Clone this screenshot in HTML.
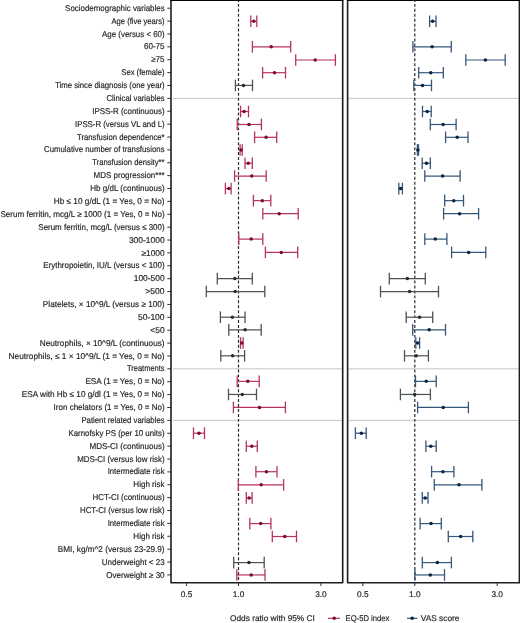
<!DOCTYPE html>
<html><head><meta charset="utf-8"><style>
html,body{margin:0;padding:0;background:#fff;}
body{width:520px;height:623px;overflow:hidden;position:relative;}
svg{position:absolute;left:0;top:0;will-change:transform;}
text{font-family:"Liberation Sans",sans-serif;font-size:8px;fill:#262626;text-rendering:geometricPrecision;stroke:#262626;stroke-width:0.18px;}
.lb{font-size:8.5px;}
.lg,.tk{font-size:8.3px;}
</style></head><body>
<svg width="520" height="623" viewBox="0 0 520 623">

<line x1="173" y1="98.36" x2="342" y2="98.36" stroke="#c4c4c4" stroke-width="1"/>
<line x1="348.5" y1="98.36" x2="518.5" y2="98.36" stroke="#c4c4c4" stroke-width="1"/>
<line x1="173" y1="368.84" x2="342" y2="368.84" stroke="#c4c4c4" stroke-width="1"/>
<line x1="348.5" y1="368.84" x2="518.5" y2="368.84" stroke="#c4c4c4" stroke-width="1"/>
<line x1="173" y1="420.36" x2="342" y2="420.36" stroke="#c4c4c4" stroke-width="1"/>
<line x1="348.5" y1="420.36" x2="518.5" y2="420.36" stroke="#c4c4c4" stroke-width="1"/>
<line x1="238.5" y1="-1.02" x2="238.5" y2="582" stroke="#2a2a2a" stroke-width="1.2" stroke-dasharray="2.95 1.99"/>
<line x1="414.8" y1="-1.02" x2="414.8" y2="582" stroke="#2a2a2a" stroke-width="1.2" stroke-dasharray="2.95 1.99"/>
<text class="lb" x="164.60" y="10.80" text-anchor="end" textLength="99.49" lengthAdjust="spacingAndGlyphs">Sociodemographic variables</text>
<line x1="167.3" y1="8.20" x2="171" y2="8.20" stroke="#333" stroke-width="1"/>
<text class="lb" x="164.60" y="23.68" text-anchor="end" textLength="53.04" lengthAdjust="spacingAndGlyphs">Age (five years)</text>
<line x1="167.3" y1="21.08" x2="171" y2="21.08" stroke="#333" stroke-width="1"/>
<text class="lb" x="164.60" y="36.56" text-anchor="end" textLength="62.53" lengthAdjust="spacingAndGlyphs">Age (versus &lt; 60)</text>
<line x1="167.3" y1="33.96" x2="171" y2="33.96" stroke="#333" stroke-width="1"/>
<text class="lb" x="164.60" y="49.44" text-anchor="end" textLength="20.72" lengthAdjust="spacingAndGlyphs">60-75</text>
<line x1="167.3" y1="46.84" x2="171" y2="46.84" stroke="#333" stroke-width="1"/>
<text class="lb" x="164.60" y="62.32" text-anchor="end" textLength="13.45" lengthAdjust="spacingAndGlyphs">≥75</text>
<line x1="167.3" y1="59.72" x2="171" y2="59.72" stroke="#333" stroke-width="1"/>
<text class="lb" x="164.60" y="75.20" text-anchor="end" textLength="43.25" lengthAdjust="spacingAndGlyphs">Sex (female)</text>
<line x1="167.3" y1="72.60" x2="171" y2="72.60" stroke="#333" stroke-width="1"/>
<text class="lb" x="164.60" y="88.08" text-anchor="end" textLength="109.44" lengthAdjust="spacingAndGlyphs">Time since diagnosis (one year)</text>
<line x1="167.3" y1="85.48" x2="171" y2="85.48" stroke="#333" stroke-width="1"/>
<text class="lb" x="164.60" y="100.96" text-anchor="end" textLength="58.07" lengthAdjust="spacingAndGlyphs">Clinical variables</text>
<line x1="167.3" y1="98.36" x2="171" y2="98.36" stroke="#333" stroke-width="1"/>
<text class="lb" x="164.60" y="113.84" text-anchor="end" textLength="72.36" lengthAdjust="spacingAndGlyphs">IPSS-R (continuous)</text>
<line x1="167.3" y1="111.24" x2="171" y2="111.24" stroke="#333" stroke-width="1"/>
<text class="lb" x="164.60" y="126.72" text-anchor="end" textLength="89.60" lengthAdjust="spacingAndGlyphs">IPSS-R (versus VL and L)</text>
<line x1="167.3" y1="124.12" x2="171" y2="124.12" stroke="#333" stroke-width="1"/>
<text class="lb" x="164.60" y="139.60" text-anchor="end" textLength="87.54" lengthAdjust="spacingAndGlyphs">Transfusion dependence*</text>
<line x1="167.3" y1="137.00" x2="171" y2="137.00" stroke="#333" stroke-width="1"/>
<text class="lb" x="164.60" y="152.48" text-anchor="end" textLength="120.57" lengthAdjust="spacingAndGlyphs">Cumulative number of transfusions</text>
<line x1="167.3" y1="149.88" x2="171" y2="149.88" stroke="#333" stroke-width="1"/>
<text class="lb" x="164.60" y="165.36" text-anchor="end" textLength="72.43" lengthAdjust="spacingAndGlyphs">Transfusion density**</text>
<line x1="167.3" y1="162.76" x2="171" y2="162.76" stroke="#333" stroke-width="1"/>
<text class="lb" x="164.60" y="178.24" text-anchor="end" textLength="70.99" lengthAdjust="spacingAndGlyphs">MDS progression***</text>
<line x1="167.3" y1="175.64" x2="171" y2="175.64" stroke="#333" stroke-width="1"/>
<text class="lb" x="164.60" y="191.12" text-anchor="end" textLength="74.34" lengthAdjust="spacingAndGlyphs">Hb g/dL (continuous)</text>
<line x1="167.3" y1="188.52" x2="171" y2="188.52" stroke="#333" stroke-width="1"/>
<text class="lb" x="164.60" y="204.00" text-anchor="end" textLength="110.84" lengthAdjust="spacingAndGlyphs">Hb ≤ 10 g/dL (1 = Yes, 0 = No)</text>
<line x1="167.3" y1="201.40" x2="171" y2="201.40" stroke="#333" stroke-width="1"/>
<text class="lb" x="164.60" y="216.88" text-anchor="end" textLength="164.20" lengthAdjust="spacingAndGlyphs">Serum ferritin, mcg/L ≥ 1000 (1 = Yes, 0 = No)</text>
<line x1="167.3" y1="214.28" x2="171" y2="214.28" stroke="#333" stroke-width="1"/>
<text class="lb" x="164.60" y="229.76" text-anchor="end" textLength="126.25" lengthAdjust="spacingAndGlyphs">Serum ferritin, mcg/L (versus ≤ 300)</text>
<line x1="167.3" y1="227.16" x2="171" y2="227.16" stroke="#333" stroke-width="1"/>
<text class="lb" x="164.60" y="242.64" text-anchor="end" textLength="35.69" lengthAdjust="spacingAndGlyphs">300-1000</text>
<line x1="167.3" y1="240.04" x2="171" y2="240.04" stroke="#333" stroke-width="1"/>
<text class="lb" x="164.60" y="255.52" text-anchor="end" textLength="23.19" lengthAdjust="spacingAndGlyphs">≥1000</text>
<line x1="167.3" y1="252.92" x2="171" y2="252.92" stroke="#333" stroke-width="1"/>
<text class="lb" x="164.60" y="268.40" text-anchor="end" textLength="121.36" lengthAdjust="spacingAndGlyphs">Erythropoietin, IU/L (versus &lt; 100)</text>
<line x1="167.3" y1="265.80" x2="171" y2="265.80" stroke="#333" stroke-width="1"/>
<text class="lb" x="164.60" y="281.28" text-anchor="end" textLength="30.87" lengthAdjust="spacingAndGlyphs">100-500</text>
<line x1="167.3" y1="278.68" x2="171" y2="278.68" stroke="#333" stroke-width="1"/>
<text class="lb" x="164.60" y="294.16" text-anchor="end" textLength="19.25" lengthAdjust="spacingAndGlyphs">&gt;500</text>
<line x1="167.3" y1="291.56" x2="171" y2="291.56" stroke="#333" stroke-width="1"/>
<text class="lb" x="164.60" y="307.04" text-anchor="end" textLength="121.73" lengthAdjust="spacingAndGlyphs">Platelets, × 10^9/L (versus ≥ 100)</text>
<line x1="167.3" y1="304.44" x2="171" y2="304.44" stroke="#333" stroke-width="1"/>
<text class="lb" x="164.60" y="319.92" text-anchor="end" textLength="26.53" lengthAdjust="spacingAndGlyphs">50-100</text>
<line x1="167.3" y1="317.32" x2="171" y2="317.32" stroke="#333" stroke-width="1"/>
<text class="lb" x="164.60" y="332.80" text-anchor="end" textLength="14.27" lengthAdjust="spacingAndGlyphs">&lt;50</text>
<line x1="167.3" y1="330.20" x2="171" y2="330.20" stroke="#333" stroke-width="1"/>
<text class="lb" x="164.60" y="345.68" text-anchor="end" textLength="124.83" lengthAdjust="spacingAndGlyphs">Neutrophils, × 10^9/L (continuous)</text>
<line x1="167.3" y1="343.08" x2="171" y2="343.08" stroke="#333" stroke-width="1"/>
<text class="lb" x="164.60" y="358.56" text-anchor="end" textLength="156.05" lengthAdjust="spacingAndGlyphs">Neutrophils, ≤ 1 × 10^9/L (1 = Yes, 0 = No)</text>
<line x1="167.3" y1="355.96" x2="171" y2="355.96" stroke="#333" stroke-width="1"/>
<text class="lb" x="164.60" y="371.44" text-anchor="end" textLength="37.65" lengthAdjust="spacingAndGlyphs">Treatments</text>
<line x1="167.3" y1="368.84" x2="171" y2="368.84" stroke="#333" stroke-width="1"/>
<text class="lb" x="164.60" y="384.32" text-anchor="end" textLength="79.18" lengthAdjust="spacingAndGlyphs">ESA (1 = Yes, 0 = No)</text>
<line x1="167.3" y1="381.72" x2="171" y2="381.72" stroke="#333" stroke-width="1"/>
<text class="lb" x="164.60" y="397.20" text-anchor="end" textLength="142.80" lengthAdjust="spacingAndGlyphs">ESA with Hb ≤ 10 g/dl (1 = Yes, 0 = No)</text>
<line x1="167.3" y1="394.60" x2="171" y2="394.60" stroke="#333" stroke-width="1"/>
<text class="lb" x="164.60" y="410.08" text-anchor="end" textLength="111.01" lengthAdjust="spacingAndGlyphs">Iron chelators (1 = Yes, 0 = No)</text>
<line x1="167.3" y1="407.48" x2="171" y2="407.48" stroke="#333" stroke-width="1"/>
<text class="lb" x="164.60" y="422.96" text-anchor="end" textLength="83.14" lengthAdjust="spacingAndGlyphs">Patient related variables</text>
<line x1="167.3" y1="420.36" x2="171" y2="420.36" stroke="#333" stroke-width="1"/>
<text class="lb" x="164.60" y="435.84" text-anchor="end" textLength="96.19" lengthAdjust="spacingAndGlyphs">Karnofsky PS (per 10 units)</text>
<line x1="167.3" y1="433.24" x2="171" y2="433.24" stroke="#333" stroke-width="1"/>
<text class="lb" x="164.60" y="448.72" text-anchor="end" textLength="75.13" lengthAdjust="spacingAndGlyphs">MDS-CI (continuous)</text>
<line x1="167.3" y1="446.12" x2="171" y2="446.12" stroke="#333" stroke-width="1"/>
<text class="lb" x="164.60" y="461.60" text-anchor="end" textLength="87.47" lengthAdjust="spacingAndGlyphs">MDS-CI (versus low risk)</text>
<line x1="167.3" y1="459.00" x2="171" y2="459.00" stroke="#333" stroke-width="1"/>
<text class="lb" x="164.60" y="474.48" text-anchor="end" textLength="56.93" lengthAdjust="spacingAndGlyphs">Intermediate risk</text>
<line x1="167.3" y1="471.88" x2="171" y2="471.88" stroke="#333" stroke-width="1"/>
<text class="lb" x="164.60" y="487.36" text-anchor="end" textLength="31.24" lengthAdjust="spacingAndGlyphs">High risk</text>
<line x1="167.3" y1="484.76" x2="171" y2="484.76" stroke="#333" stroke-width="1"/>
<text class="lb" x="164.60" y="500.24" text-anchor="end" textLength="72.05" lengthAdjust="spacingAndGlyphs">HCT-CI (continuous)</text>
<line x1="167.3" y1="497.64" x2="171" y2="497.64" stroke="#333" stroke-width="1"/>
<text class="lb" x="164.60" y="513.12" text-anchor="end" textLength="84.59" lengthAdjust="spacingAndGlyphs">HCT-CI (versus low risk)</text>
<line x1="167.3" y1="510.52" x2="171" y2="510.52" stroke="#333" stroke-width="1"/>
<text class="lb" x="164.60" y="526.00" text-anchor="end" textLength="56.93" lengthAdjust="spacingAndGlyphs">Intermediate risk</text>
<line x1="167.3" y1="523.40" x2="171" y2="523.40" stroke="#333" stroke-width="1"/>
<text class="lb" x="164.60" y="538.88" text-anchor="end" textLength="31.24" lengthAdjust="spacingAndGlyphs">High risk</text>
<line x1="167.3" y1="536.28" x2="171" y2="536.28" stroke="#333" stroke-width="1"/>
<text class="lb" x="164.60" y="551.76" text-anchor="end" textLength="106.79" lengthAdjust="spacingAndGlyphs">BMI, kg/m^2 (versus 23-29.9)</text>
<line x1="167.3" y1="549.16" x2="171" y2="549.16" stroke="#333" stroke-width="1"/>
<text class="lb" x="164.60" y="564.64" text-anchor="end" textLength="62.82" lengthAdjust="spacingAndGlyphs">Underweight &lt; 23</text>
<line x1="167.3" y1="562.04" x2="171" y2="562.04" stroke="#333" stroke-width="1"/>
<text class="lb" x="164.60" y="577.52" text-anchor="end" textLength="58.31" lengthAdjust="spacingAndGlyphs">Overweight ≥ 30</text>
<line x1="167.3" y1="574.92" x2="171" y2="574.92" stroke="#333" stroke-width="1"/>
<g stroke="#b8335c" stroke-width="1.2"><line x1="250.8" y1="21.30" x2="256.8" y2="21.30"/><line x1="250.8" y1="15.50" x2="250.8" y2="27.10" stroke-width="1.3"/><line x1="256.8" y1="15.50" x2="256.8" y2="27.10" stroke-width="1.3"/></g><circle cx="253.8" cy="21.30" r="1.75" fill="#7c0a2e"/>
<g stroke="#b8335c" stroke-width="1.2"><line x1="252.4" y1="46.80" x2="290.7" y2="46.80"/><line x1="252.4" y1="41.00" x2="252.4" y2="52.60" stroke-width="1.3"/><line x1="290.7" y1="41.00" x2="290.7" y2="52.60" stroke-width="1.3"/></g><circle cx="271.2" cy="46.80" r="1.75" fill="#7c0a2e"/>
<g stroke="#b8335c" stroke-width="1.2"><line x1="295.7" y1="60.00" x2="335.4" y2="60.00"/><line x1="295.7" y1="54.20" x2="295.7" y2="65.80" stroke-width="1.3"/><line x1="335.4" y1="54.20" x2="335.4" y2="65.80" stroke-width="1.3"/></g><circle cx="315.2" cy="60.00" r="1.75" fill="#7c0a2e"/>
<g stroke="#b8335c" stroke-width="1.2"><line x1="262.6" y1="72.70" x2="285.5" y2="72.70"/><line x1="262.6" y1="66.90" x2="262.6" y2="78.50" stroke-width="1.3"/><line x1="285.5" y1="66.90" x2="285.5" y2="78.50" stroke-width="1.3"/></g><circle cx="274.5" cy="72.70" r="1.75" fill="#7c0a2e"/>
<g stroke="#4c5356" stroke-width="1.2"><line x1="235.4" y1="85.40" x2="252.5" y2="85.40"/><line x1="235.4" y1="79.60" x2="235.4" y2="91.20" stroke-width="1.3"/><line x1="252.5" y1="79.60" x2="252.5" y2="91.20" stroke-width="1.3"/></g><circle cx="243.5" cy="85.40" r="1.75" fill="#262c2e"/>
<g stroke="#b8335c" stroke-width="1.2"><line x1="240.6" y1="111.50" x2="248.5" y2="111.50"/><line x1="240.6" y1="105.70" x2="240.6" y2="117.30" stroke-width="1.3"/><line x1="248.5" y1="105.70" x2="248.5" y2="117.30" stroke-width="1.3"/></g><circle cx="244.1" cy="111.50" r="1.75" fill="#7c0a2e"/>
<g stroke="#b8335c" stroke-width="1.2"><line x1="237.2" y1="124.50" x2="261.4" y2="124.50"/><line x1="237.2" y1="118.70" x2="237.2" y2="130.30" stroke-width="1.3"/><line x1="261.4" y1="118.70" x2="261.4" y2="130.30" stroke-width="1.3"/></g><circle cx="249.0" cy="124.50" r="1.75" fill="#7c0a2e"/>
<g stroke="#b8335c" stroke-width="1.2"><line x1="254.6" y1="137.30" x2="276.7" y2="137.30"/><line x1="254.6" y1="131.50" x2="254.6" y2="143.10" stroke-width="1.3"/><line x1="276.7" y1="131.50" x2="276.7" y2="143.10" stroke-width="1.3"/></g><circle cx="266.1" cy="137.30" r="1.75" fill="#7c0a2e"/>
<g stroke="#b8335c" stroke-width="1.2"><line x1="240.1" y1="149.95" x2="242.3" y2="149.95"/><line x1="240.1" y1="144.15" x2="240.1" y2="155.75" stroke-width="1.3"/><line x1="242.3" y1="144.15" x2="242.3" y2="155.75" stroke-width="1.3"/></g><circle cx="241.0" cy="149.95" r="1.75" fill="#7c0a2e"/>
<g stroke="#b8335c" stroke-width="1.2"><line x1="245.0" y1="163.20" x2="252.3" y2="163.20"/><line x1="245.0" y1="157.40" x2="245.0" y2="169.00" stroke-width="1.3"/><line x1="252.3" y1="157.40" x2="252.3" y2="169.00" stroke-width="1.3"/></g><circle cx="248.2" cy="163.20" r="1.75" fill="#7c0a2e"/>
<g stroke="#b8335c" stroke-width="1.2"><line x1="234.6" y1="176.05" x2="266.2" y2="176.05"/><line x1="234.6" y1="170.25" x2="234.6" y2="181.85" stroke-width="1.3"/><line x1="266.2" y1="170.25" x2="266.2" y2="181.85" stroke-width="1.3"/></g><circle cx="251.8" cy="176.05" r="1.75" fill="#7c0a2e"/>
<g stroke="#b8335c" stroke-width="1.2"><line x1="225.4" y1="188.60" x2="231.1" y2="188.60"/><line x1="225.4" y1="182.80" x2="225.4" y2="194.40" stroke-width="1.3"/><line x1="231.1" y1="182.80" x2="231.1" y2="194.40" stroke-width="1.3"/></g><circle cx="228.8" cy="188.60" r="1.75" fill="#7c0a2e"/>
<g stroke="#b8335c" stroke-width="1.2"><line x1="253.4" y1="200.65" x2="270.8" y2="200.65"/><line x1="253.4" y1="194.85" x2="253.4" y2="206.45" stroke-width="1.3"/><line x1="270.8" y1="194.85" x2="270.8" y2="206.45" stroke-width="1.3"/></g><circle cx="262.3" cy="200.65" r="1.75" fill="#7c0a2e"/>
<g stroke="#b8335c" stroke-width="1.2"><line x1="262.8" y1="213.70" x2="298.2" y2="213.70"/><line x1="262.8" y1="207.90" x2="262.8" y2="219.50" stroke-width="1.3"/><line x1="298.2" y1="207.90" x2="298.2" y2="219.50" stroke-width="1.3"/></g><circle cx="279.2" cy="213.70" r="1.75" fill="#7c0a2e"/>
<g stroke="#b8335c" stroke-width="1.2"><line x1="238.8" y1="239.10" x2="262.8" y2="239.10"/><line x1="238.8" y1="233.30" x2="238.8" y2="244.90" stroke-width="1.3"/><line x1="262.8" y1="233.30" x2="262.8" y2="244.90" stroke-width="1.3"/></g><circle cx="251.2" cy="239.10" r="1.75" fill="#7c0a2e"/>
<g stroke="#b8335c" stroke-width="1.2"><line x1="265.4" y1="252.40" x2="297.7" y2="252.40"/><line x1="265.4" y1="246.60" x2="265.4" y2="258.20" stroke-width="1.3"/><line x1="297.7" y1="246.60" x2="297.7" y2="258.20" stroke-width="1.3"/></g><circle cx="281.3" cy="252.40" r="1.75" fill="#7c0a2e"/>
<g stroke="#4c5356" stroke-width="1.2"><line x1="217.3" y1="278.60" x2="252.3" y2="278.60"/><line x1="217.3" y1="272.80" x2="217.3" y2="284.40" stroke-width="1.3"/><line x1="252.3" y1="272.80" x2="252.3" y2="284.40" stroke-width="1.3"/></g><circle cx="234.8" cy="278.60" r="1.75" fill="#262c2e"/>
<g stroke="#4c5356" stroke-width="1.2"><line x1="206.3" y1="291.55" x2="264.8" y2="291.55"/><line x1="206.3" y1="285.75" x2="206.3" y2="297.35" stroke-width="1.3"/><line x1="264.8" y1="285.75" x2="264.8" y2="297.35" stroke-width="1.3"/></g><circle cx="235.2" cy="291.55" r="1.75" fill="#262c2e"/>
<g stroke="#4c5356" stroke-width="1.2"><line x1="220.4" y1="317.20" x2="245.0" y2="317.20"/><line x1="220.4" y1="311.40" x2="220.4" y2="323.00" stroke-width="1.3"/><line x1="245.0" y1="311.40" x2="245.0" y2="323.00" stroke-width="1.3"/></g><circle cx="232.3" cy="317.20" r="1.75" fill="#262c2e"/>
<g stroke="#4c5356" stroke-width="1.2"><line x1="228.8" y1="329.85" x2="261.2" y2="329.85"/><line x1="228.8" y1="324.05" x2="228.8" y2="335.65" stroke-width="1.3"/><line x1="261.2" y1="324.05" x2="261.2" y2="335.65" stroke-width="1.3"/></g><circle cx="245.1" cy="329.85" r="1.75" fill="#262c2e"/>
<g stroke="#b8335c" stroke-width="1.2"><line x1="240.5" y1="343.00" x2="243.1" y2="343.00"/><line x1="240.5" y1="337.20" x2="240.5" y2="348.80" stroke-width="1.3"/><line x1="243.1" y1="337.20" x2="243.1" y2="348.80" stroke-width="1.3"/></g><circle cx="241.8" cy="343.00" r="1.75" fill="#7c0a2e"/>
<g stroke="#4c5356" stroke-width="1.2"><line x1="220.8" y1="355.80" x2="244.6" y2="355.80"/><line x1="220.8" y1="350.00" x2="220.8" y2="361.60" stroke-width="1.3"/><line x1="244.6" y1="350.00" x2="244.6" y2="361.60" stroke-width="1.3"/></g><circle cx="232.6" cy="355.80" r="1.75" fill="#262c2e"/>
<g stroke="#b8335c" stroke-width="1.2"><line x1="237.2" y1="381.35" x2="259.2" y2="381.35"/><line x1="237.2" y1="375.55" x2="237.2" y2="387.15" stroke-width="1.3"/><line x1="259.2" y1="375.55" x2="259.2" y2="387.15" stroke-width="1.3"/></g><circle cx="247.8" cy="381.35" r="1.75" fill="#7c0a2e"/>
<g stroke="#4c5356" stroke-width="1.2"><line x1="228.5" y1="394.45" x2="256.5" y2="394.45"/><line x1="228.5" y1="388.65" x2="228.5" y2="400.25" stroke-width="1.3"/><line x1="256.5" y1="388.65" x2="256.5" y2="400.25" stroke-width="1.3"/></g><circle cx="242.3" cy="394.45" r="1.75" fill="#262c2e"/>
<g stroke="#b8335c" stroke-width="1.2"><line x1="233.4" y1="407.40" x2="285.4" y2="407.40"/><line x1="233.4" y1="401.60" x2="233.4" y2="413.20" stroke-width="1.3"/><line x1="285.4" y1="401.60" x2="285.4" y2="413.20" stroke-width="1.3"/></g><circle cx="259.5" cy="407.40" r="1.75" fill="#7c0a2e"/>
<g stroke="#b8335c" stroke-width="1.2"><line x1="193.5" y1="433.20" x2="204.5" y2="433.20"/><line x1="193.5" y1="427.40" x2="193.5" y2="439.00" stroke-width="1.3"/><line x1="204.5" y1="427.40" x2="204.5" y2="439.00" stroke-width="1.3"/></g><circle cx="199.0" cy="433.20" r="1.75" fill="#7c0a2e"/>
<g stroke="#b8335c" stroke-width="1.2"><line x1="246.3" y1="446.25" x2="257.3" y2="446.25"/><line x1="246.3" y1="440.45" x2="246.3" y2="452.05" stroke-width="1.3"/><line x1="257.3" y1="440.45" x2="257.3" y2="452.05" stroke-width="1.3"/></g><circle cx="251.8" cy="446.25" r="1.75" fill="#7c0a2e"/>
<g stroke="#b8335c" stroke-width="1.2"><line x1="255.9" y1="471.70" x2="277.0" y2="471.70"/><line x1="255.9" y1="465.90" x2="255.9" y2="477.50" stroke-width="1.3"/><line x1="277.0" y1="465.90" x2="277.0" y2="477.50" stroke-width="1.3"/></g><circle cx="266.4" cy="471.70" r="1.75" fill="#7c0a2e"/>
<g stroke="#b8335c" stroke-width="1.2"><line x1="238.3" y1="484.85" x2="283.6" y2="484.85"/><line x1="238.3" y1="479.05" x2="238.3" y2="490.65" stroke-width="1.3"/><line x1="283.6" y1="479.05" x2="283.6" y2="490.65" stroke-width="1.3"/></g><circle cx="261.2" cy="484.85" r="1.75" fill="#7c0a2e"/>
<g stroke="#b8335c" stroke-width="1.2"><line x1="246.3" y1="497.90" x2="252.1" y2="497.90"/><line x1="246.3" y1="492.10" x2="246.3" y2="503.70" stroke-width="1.3"/><line x1="252.1" y1="492.10" x2="252.1" y2="503.70" stroke-width="1.3"/></g><circle cx="249.1" cy="497.90" r="1.75" fill="#7c0a2e"/>
<g stroke="#b8335c" stroke-width="1.2"><line x1="249.8" y1="523.60" x2="270.9" y2="523.60"/><line x1="249.8" y1="517.80" x2="249.8" y2="529.40" stroke-width="1.3"/><line x1="270.9" y1="517.80" x2="270.9" y2="529.40" stroke-width="1.3"/></g><circle cx="260.7" cy="523.60" r="1.75" fill="#7c0a2e"/>
<g stroke="#b8335c" stroke-width="1.2"><line x1="272.3" y1="536.50" x2="296.5" y2="536.50"/><line x1="272.3" y1="530.70" x2="272.3" y2="542.30" stroke-width="1.3"/><line x1="296.5" y1="530.70" x2="296.5" y2="542.30" stroke-width="1.3"/></g><circle cx="284.8" cy="536.50" r="1.75" fill="#7c0a2e"/>
<g stroke="#4c5356" stroke-width="1.2"><line x1="233.7" y1="562.60" x2="264.2" y2="562.60"/><line x1="233.7" y1="556.80" x2="233.7" y2="568.40" stroke-width="1.3"/><line x1="264.2" y1="556.80" x2="264.2" y2="568.40" stroke-width="1.3"/></g><circle cx="248.9" cy="562.60" r="1.75" fill="#262c2e"/>
<g stroke="#b8335c" stroke-width="1.2"><line x1="236.8" y1="574.95" x2="265.0" y2="574.95"/><line x1="236.8" y1="569.15" x2="236.8" y2="580.75" stroke-width="1.3"/><line x1="265.0" y1="569.15" x2="265.0" y2="580.75" stroke-width="1.3"/></g><circle cx="251.2" cy="574.95" r="1.75" fill="#7c0a2e"/>
<g stroke="#34577c" stroke-width="1.2"><line x1="429.6" y1="21.30" x2="436.0" y2="21.30"/><line x1="429.6" y1="15.50" x2="429.6" y2="27.10" stroke-width="1.3"/><line x1="436.0" y1="15.50" x2="436.0" y2="27.10" stroke-width="1.3"/></g><circle cx="432.7" cy="21.30" r="1.75" fill="#0d2240"/>
<g stroke="#34577c" stroke-width="1.2"><line x1="412.9" y1="46.80" x2="451.3" y2="46.80"/><line x1="412.9" y1="41.00" x2="412.9" y2="52.60" stroke-width="1.3"/><line x1="451.3" y1="41.00" x2="451.3" y2="52.60" stroke-width="1.3"/></g><circle cx="432.1" cy="46.80" r="1.75" fill="#0d2240"/>
<g stroke="#34577c" stroke-width="1.2"><line x1="465.8" y1="60.00" x2="505.2" y2="60.00"/><line x1="465.8" y1="54.20" x2="465.8" y2="65.80" stroke-width="1.3"/><line x1="505.2" y1="54.20" x2="505.2" y2="65.80" stroke-width="1.3"/></g><circle cx="485.4" cy="60.00" r="1.75" fill="#0d2240"/>
<g stroke="#34577c" stroke-width="1.2"><line x1="418.7" y1="72.70" x2="443.3" y2="72.70"/><line x1="418.7" y1="66.90" x2="418.7" y2="78.50" stroke-width="1.3"/><line x1="443.3" y1="66.90" x2="443.3" y2="78.50" stroke-width="1.3"/></g><circle cx="430.8" cy="72.70" r="1.75" fill="#0d2240"/>
<g stroke="#34577c" stroke-width="1.2"><line x1="413.8" y1="85.40" x2="431.5" y2="85.40"/><line x1="413.8" y1="79.60" x2="413.8" y2="91.20" stroke-width="1.3"/><line x1="431.5" y1="79.60" x2="431.5" y2="91.20" stroke-width="1.3"/></g><circle cx="422.5" cy="85.40" r="1.75" fill="#0d2240"/>
<g stroke="#34577c" stroke-width="1.2"><line x1="422.5" y1="111.50" x2="431.2" y2="111.50"/><line x1="422.5" y1="105.70" x2="422.5" y2="117.30" stroke-width="1.3"/><line x1="431.2" y1="105.70" x2="431.2" y2="117.30" stroke-width="1.3"/></g><circle cx="427.2" cy="111.50" r="1.75" fill="#0d2240"/>
<g stroke="#34577c" stroke-width="1.2"><line x1="430.3" y1="124.50" x2="456.1" y2="124.50"/><line x1="430.3" y1="118.70" x2="430.3" y2="130.30" stroke-width="1.3"/><line x1="456.1" y1="118.70" x2="456.1" y2="130.30" stroke-width="1.3"/></g><circle cx="443.1" cy="124.50" r="1.75" fill="#0d2240"/>
<g stroke="#34577c" stroke-width="1.2"><line x1="445.6" y1="137.30" x2="468.0" y2="137.30"/><line x1="445.6" y1="131.50" x2="445.6" y2="143.10" stroke-width="1.3"/><line x1="468.0" y1="131.50" x2="468.0" y2="143.10" stroke-width="1.3"/></g><circle cx="457.2" cy="137.30" r="1.75" fill="#0d2240"/>
<g stroke="#34577c" stroke-width="1.2"><line x1="417.4" y1="149.95" x2="418.5" y2="149.95"/><line x1="417.4" y1="144.15" x2="417.4" y2="155.75" stroke-width="1.3"/><line x1="418.5" y1="144.15" x2="418.5" y2="155.75" stroke-width="1.3"/></g><circle cx="417.9" cy="149.95" r="1.75" fill="#0d2240"/>
<g stroke="#34577c" stroke-width="1.2"><line x1="422.2" y1="163.20" x2="430.3" y2="163.20"/><line x1="422.2" y1="157.40" x2="422.2" y2="169.00" stroke-width="1.3"/><line x1="430.3" y1="157.40" x2="430.3" y2="169.00" stroke-width="1.3"/></g><circle cx="426.5" cy="163.20" r="1.75" fill="#0d2240"/>
<g stroke="#34577c" stroke-width="1.2"><line x1="424.8" y1="176.05" x2="460.1" y2="176.05"/><line x1="424.8" y1="170.25" x2="424.8" y2="181.85" stroke-width="1.3"/><line x1="460.1" y1="170.25" x2="460.1" y2="181.85" stroke-width="1.3"/></g><circle cx="442.6" cy="176.05" r="1.75" fill="#0d2240"/>
<g stroke="#34577c" stroke-width="1.2"><line x1="398.8" y1="188.60" x2="402.4" y2="188.60"/><line x1="398.8" y1="182.80" x2="398.8" y2="194.40" stroke-width="1.3"/><line x1="402.4" y1="182.80" x2="402.4" y2="194.40" stroke-width="1.3"/></g><circle cx="400.6" cy="188.60" r="1.75" fill="#0d2240"/>
<g stroke="#34577c" stroke-width="1.2"><line x1="444.7" y1="200.65" x2="463.5" y2="200.65"/><line x1="444.7" y1="194.85" x2="444.7" y2="206.45" stroke-width="1.3"/><line x1="463.5" y1="194.85" x2="463.5" y2="206.45" stroke-width="1.3"/></g><circle cx="453.8" cy="200.65" r="1.75" fill="#0d2240"/>
<g stroke="#34577c" stroke-width="1.2"><line x1="443.6" y1="213.70" x2="478.6" y2="213.70"/><line x1="443.6" y1="207.90" x2="443.6" y2="219.50" stroke-width="1.3"/><line x1="478.6" y1="207.90" x2="478.6" y2="219.50" stroke-width="1.3"/></g><circle cx="459.6" cy="213.70" r="1.75" fill="#0d2240"/>
<g stroke="#34577c" stroke-width="1.2"><line x1="424.8" y1="239.10" x2="446.9" y2="239.10"/><line x1="424.8" y1="233.30" x2="424.8" y2="244.90" stroke-width="1.3"/><line x1="446.9" y1="233.30" x2="446.9" y2="244.90" stroke-width="1.3"/></g><circle cx="435.3" cy="239.10" r="1.75" fill="#0d2240"/>
<g stroke="#34577c" stroke-width="1.2"><line x1="451.6" y1="252.40" x2="485.8" y2="252.40"/><line x1="451.6" y1="246.60" x2="451.6" y2="258.20" stroke-width="1.3"/><line x1="485.8" y1="246.60" x2="485.8" y2="258.20" stroke-width="1.3"/></g><circle cx="468.7" cy="252.40" r="1.75" fill="#0d2240"/>
<g stroke="#4c5356" stroke-width="1.2"><line x1="389.3" y1="278.60" x2="425.3" y2="278.60"/><line x1="389.3" y1="272.80" x2="389.3" y2="284.40" stroke-width="1.3"/><line x1="425.3" y1="272.80" x2="425.3" y2="284.40" stroke-width="1.3"/></g><circle cx="407.3" cy="278.60" r="1.75" fill="#262c2e"/>
<g stroke="#4c5356" stroke-width="1.2"><line x1="380.5" y1="291.55" x2="438.5" y2="291.55"/><line x1="380.5" y1="285.75" x2="380.5" y2="297.35" stroke-width="1.3"/><line x1="438.5" y1="285.75" x2="438.5" y2="297.35" stroke-width="1.3"/></g><circle cx="409.6" cy="291.55" r="1.75" fill="#262c2e"/>
<g stroke="#4c5356" stroke-width="1.2"><line x1="406.2" y1="317.20" x2="432.7" y2="317.20"/><line x1="406.2" y1="311.40" x2="406.2" y2="323.00" stroke-width="1.3"/><line x1="432.7" y1="311.40" x2="432.7" y2="323.00" stroke-width="1.3"/></g><circle cx="419.5" cy="317.20" r="1.75" fill="#262c2e"/>
<g stroke="#34577c" stroke-width="1.2"><line x1="412.7" y1="329.85" x2="445.5" y2="329.85"/><line x1="412.7" y1="324.05" x2="412.7" y2="335.65" stroke-width="1.3"/><line x1="445.5" y1="324.05" x2="445.5" y2="335.65" stroke-width="1.3"/></g><circle cx="429.2" cy="329.85" r="1.75" fill="#0d2240"/>
<g stroke="#34577c" stroke-width="1.2"><line x1="415.8" y1="343.00" x2="419.6" y2="343.00"/><line x1="415.8" y1="337.20" x2="415.8" y2="348.80" stroke-width="1.3"/><line x1="419.6" y1="337.20" x2="419.6" y2="348.80" stroke-width="1.3"/></g><circle cx="417.6" cy="343.00" r="1.75" fill="#0d2240"/>
<g stroke="#4c5356" stroke-width="1.2"><line x1="404.5" y1="355.80" x2="428.4" y2="355.80"/><line x1="404.5" y1="350.00" x2="404.5" y2="361.60" stroke-width="1.3"/><line x1="428.4" y1="350.00" x2="428.4" y2="361.60" stroke-width="1.3"/></g><circle cx="416.2" cy="355.80" r="1.75" fill="#262c2e"/>
<g stroke="#34577c" stroke-width="1.2"><line x1="415.5" y1="381.35" x2="436.2" y2="381.35"/><line x1="415.5" y1="375.55" x2="415.5" y2="387.15" stroke-width="1.3"/><line x1="436.2" y1="375.55" x2="436.2" y2="387.15" stroke-width="1.3"/></g><circle cx="426.2" cy="381.35" r="1.75" fill="#0d2240"/>
<g stroke="#4c5356" stroke-width="1.2"><line x1="400.4" y1="394.45" x2="430.4" y2="394.45"/><line x1="400.4" y1="388.65" x2="400.4" y2="400.25" stroke-width="1.3"/><line x1="430.4" y1="388.65" x2="430.4" y2="400.25" stroke-width="1.3"/></g><circle cx="414.7" cy="394.45" r="1.75" fill="#262c2e"/>
<g stroke="#34577c" stroke-width="1.2"><line x1="417.6" y1="407.40" x2="468.4" y2="407.40"/><line x1="417.6" y1="401.60" x2="417.6" y2="413.20" stroke-width="1.3"/><line x1="468.4" y1="401.60" x2="468.4" y2="413.20" stroke-width="1.3"/></g><circle cx="443.2" cy="407.40" r="1.75" fill="#0d2240"/>
<g stroke="#34577c" stroke-width="1.2"><line x1="355.4" y1="433.20" x2="366.2" y2="433.20"/><line x1="355.4" y1="427.40" x2="355.4" y2="439.00" stroke-width="1.3"/><line x1="366.2" y1="427.40" x2="366.2" y2="439.00" stroke-width="1.3"/></g><circle cx="361.3" cy="433.20" r="1.75" fill="#0d2240"/>
<g stroke="#34577c" stroke-width="1.2"><line x1="425.9" y1="446.25" x2="436.2" y2="446.25"/><line x1="425.9" y1="440.45" x2="425.9" y2="452.05" stroke-width="1.3"/><line x1="436.2" y1="440.45" x2="436.2" y2="452.05" stroke-width="1.3"/></g><circle cx="430.8" cy="446.25" r="1.75" fill="#0d2240"/>
<g stroke="#34577c" stroke-width="1.2"><line x1="431.6" y1="471.70" x2="453.9" y2="471.70"/><line x1="431.6" y1="465.90" x2="431.6" y2="477.50" stroke-width="1.3"/><line x1="453.9" y1="465.90" x2="453.9" y2="477.50" stroke-width="1.3"/></g><circle cx="442.9" cy="471.70" r="1.75" fill="#0d2240"/>
<g stroke="#34577c" stroke-width="1.2"><line x1="434.3" y1="484.85" x2="481.9" y2="484.85"/><line x1="434.3" y1="479.05" x2="434.3" y2="490.65" stroke-width="1.3"/><line x1="481.9" y1="479.05" x2="481.9" y2="490.65" stroke-width="1.3"/></g><circle cx="459.0" cy="484.85" r="1.75" fill="#0d2240"/>
<g stroke="#34577c" stroke-width="1.2"><line x1="422.3" y1="497.90" x2="428.0" y2="497.90"/><line x1="422.3" y1="492.10" x2="422.3" y2="503.70" stroke-width="1.3"/><line x1="428.0" y1="492.10" x2="428.0" y2="503.70" stroke-width="1.3"/></g><circle cx="425.1" cy="497.90" r="1.75" fill="#0d2240"/>
<g stroke="#34577c" stroke-width="1.2"><line x1="420.1" y1="523.60" x2="441.3" y2="523.60"/><line x1="420.1" y1="517.80" x2="420.1" y2="529.40" stroke-width="1.3"/><line x1="441.3" y1="517.80" x2="441.3" y2="529.40" stroke-width="1.3"/></g><circle cx="431.0" cy="523.60" r="1.75" fill="#0d2240"/>
<g stroke="#34577c" stroke-width="1.2"><line x1="448.3" y1="536.50" x2="472.8" y2="536.50"/><line x1="448.3" y1="530.70" x2="448.3" y2="542.30" stroke-width="1.3"/><line x1="472.8" y1="530.70" x2="472.8" y2="542.30" stroke-width="1.3"/></g><circle cx="460.7" cy="536.50" r="1.75" fill="#0d2240"/>
<g stroke="#34577c" stroke-width="1.2"><line x1="422.3" y1="562.60" x2="451.4" y2="562.60"/><line x1="422.3" y1="556.80" x2="422.3" y2="568.40" stroke-width="1.3"/><line x1="451.4" y1="556.80" x2="451.4" y2="568.40" stroke-width="1.3"/></g><circle cx="437.4" cy="562.60" r="1.75" fill="#0d2240"/>
<g stroke="#34577c" stroke-width="1.2"><line x1="415.0" y1="574.95" x2="444.5" y2="574.95"/><line x1="415.0" y1="569.15" x2="415.0" y2="580.75" stroke-width="1.3"/><line x1="444.5" y1="569.15" x2="444.5" y2="580.75" stroke-width="1.3"/></g><circle cx="430.3" cy="574.95" r="1.75" fill="#0d2240"/>
<path d="M171,0 V582.8 H342.7 V0" fill="none" stroke="#1e1e1e" stroke-width="1.6" stroke-linejoin="round"/>
<line x1="170.25" y1="0.5" x2="343.45" y2="0.5" stroke="#000" stroke-width="1.2"/>
<path d="M347.6,0 V582.8 H519.4 V0" fill="none" stroke="#1e1e1e" stroke-width="1.6" stroke-linejoin="round"/>
<line x1="346.85" y1="0.5" x2="520" y2="0.5" stroke="#000" stroke-width="1.2"/>
<line x1="186.51" y1="583" x2="186.51" y2="586" stroke="#333" stroke-width="1"/>
<text class="tk" x="186.51" y="596.8" text-anchor="middle">0.5</text>
<line x1="238.50" y1="583" x2="238.50" y2="586" stroke="#333" stroke-width="1"/>
<text class="tk" x="238.50" y="596.8" text-anchor="middle">1.0</text>
<line x1="320.90" y1="583" x2="320.90" y2="586" stroke="#333" stroke-width="1"/>
<text class="tk" x="320.90" y="596.8" text-anchor="middle">3.0</text>
<line x1="362.81" y1="583" x2="362.81" y2="586" stroke="#333" stroke-width="1"/>
<text class="tk" x="362.81" y="596.8" text-anchor="middle">0.5</text>
<line x1="414.80" y1="583" x2="414.80" y2="586" stroke="#333" stroke-width="1"/>
<text class="tk" x="414.80" y="596.8" text-anchor="middle">1.0</text>
<line x1="497.20" y1="583" x2="497.20" y2="586" stroke="#333" stroke-width="1"/>
<text class="tk" x="497.20" y="596.8" text-anchor="middle">3.0</text>
<text class="lg" x="230.00" y="620.80">Odds ratio with 95% CI</text>
<line x1="328" y1="618.3" x2="340" y2="618.3" stroke="#b8335c" stroke-width="1.2"/><circle cx="334.2" cy="618.3" r="1.75" fill="#7c0a2e"/>
<text class="lg" x="345.60" y="620.80" textLength="43.80" lengthAdjust="spacingAndGlyphs">EQ-5D index</text>
<line x1="407" y1="618.3" x2="417.4" y2="618.3" stroke="#34577c" stroke-width="1.2"/><circle cx="412.2" cy="618.3" r="1.75" fill="#0d2240"/>
<text class="lg" x="420.80" y="620.80">VAS score</text>
</svg>
</body></html>
